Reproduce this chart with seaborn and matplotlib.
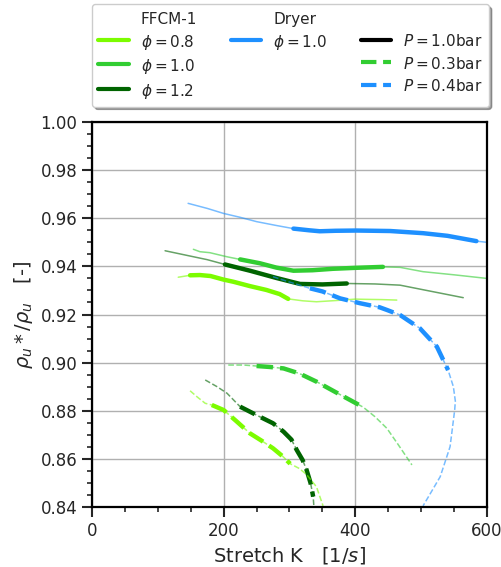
import numpy as np
import pandas as pd
import seaborn as sns
import matplotlib.pyplot as plt
from matplotlib.lines import Line2D
from matplotlib.ticker import MultipleLocator

# ---- data (K in 1/s, density ratio) ----
# FFCM-1, P = 1.0 bar
K_phi08 = [131, 149, 164, 180, 200, 215, 240, 265, 285, 298, 320, 341, 370, 400, 417, 440, 463]
r_phi08 = [0.9355, 0.9363, 0.9364, 0.9360, 0.9345, 0.9336, 0.9318, 0.9302, 0.9285, 0.9265,
           0.9257, 0.9253, 0.9258, 0.9264, 0.9263, 0.9262, 0.9260]
K_phi08_exp = [149, 164, 180, 200, 215, 240, 265, 285, 298]
r_phi08_exp = [0.9363, 0.9364, 0.9360, 0.9345, 0.9336, 0.9318, 0.9302, 0.9285, 0.9265]

K_phi10 = [154, 164, 179, 205, 225, 255, 280, 306, 335, 366, 400, 442, 468, 503, 550, 600]
r_phi10 = [0.9471, 0.9461, 0.9457, 0.9440, 0.9429, 0.9413, 0.9395, 0.9382, 0.9384, 0.9390,
           0.9394, 0.9398, 0.9396, 0.9378, 0.9365, 0.9350]
K_phi10_exp = [225, 255, 280, 306, 335, 366, 400, 442]
r_phi10_exp = [0.9429, 0.9413, 0.9395, 0.9382, 0.9384, 0.9390, 0.9394, 0.9398]

K_phi12 = [111, 149, 175, 202, 240, 280, 316, 350, 387, 430, 468, 503, 540, 564]
r_phi12 = [0.9465, 0.9443, 0.9428, 0.9408, 0.9382, 0.9352, 0.9327, 0.9325, 0.9329, 0.9327,
           0.9322, 0.9303, 0.9283, 0.9270]
K_phi12_exp = [202, 240, 280, 316, 350, 387]
r_phi12_exp = [0.9408, 0.9382, 0.9352, 0.9327, 0.9325, 0.9329]

# Dryer, phi = 1.0, P = 1.0 bar
K_dry = [146, 175, 200, 225, 250, 280, 306, 330, 346, 370, 402, 453, 503, 540, 584, 600]
r_dry = [0.9662, 0.9641, 0.9620, 0.9604, 0.9586, 0.9570, 0.9557, 0.9550, 0.9546, 0.9548,
         0.9549, 0.9547, 0.9538, 0.9527, 0.9505, 0.9500]
K_dry_exp = [306, 330, 346, 370, 402, 453, 503, 540, 584]
r_dry_exp = [0.9557, 0.9550, 0.9546, 0.9548, 0.9549, 0.9547, 0.9538, 0.9527, 0.9505]

# FFCM-1, P = 0.3 bar
K_phi08_lp = [149, 160, 172, 182, 200, 220, 240, 258, 275, 290, 301, 315, 326, 341, 351]
r_phi08_lp = [0.8883, 0.8857, 0.8831, 0.8824, 0.8803, 0.8755, 0.8706, 0.8675, 0.8644, 0.8610,
              0.8580, 0.8560, 0.8535, 0.8484, 0.8405]
K_phi08_lp_exp = [182, 200, 220, 240, 258, 275, 290, 301]
r_phi08_lp_exp = [0.8824, 0.8803, 0.8755, 0.8706, 0.8675, 0.8644, 0.8610, 0.8580]

K_phi10_lp = [207, 230, 250, 270, 291, 315, 341, 375, 412, 430, 448, 465, 486]
r_phi10_lp = [0.8990, 0.8990, 0.8986, 0.8982, 0.8976, 0.8955, 0.8921, 0.8870, 0.8815, 0.8775,
              0.8727, 0.8660, 0.8575]
K_phi10_lp_exp = [250, 270, 291, 315, 341, 375, 412]
r_phi10_lp_exp = [0.8986, 0.8982, 0.8976, 0.8955, 0.8921, 0.8870, 0.8815]

K_phi12_lp = [172, 190, 205, 225, 255, 275, 291, 303, 311, 320, 326, 332, 336, 337]
r_phi12_lp = [0.8928, 0.8900, 0.8873, 0.8817, 0.8775, 0.8748, 0.8713, 0.8680, 0.8637, 0.8595,
              0.8554, 0.8500, 0.8443, 0.8405]
K_phi12_lp_exp = [225, 255, 275, 291, 303, 311, 320, 326, 332, 336]
r_phi12_lp_exp = [0.8817, 0.8775, 0.8748, 0.8713, 0.8680, 0.8637, 0.8595, 0.8554, 0.8500, 0.8443]

# Dryer, P = 0.4 bar
K_dry_lp = [275, 300, 331, 350, 377, 407, 437, 448, 468, 498, 524, 541, 549, 552, 551, 544,
            539, 529, 517, 503]
r_dry_lp = [0.9357, 0.9335, 0.9309, 0.9296, 0.9267, 0.9247, 0.9230, 0.9219, 0.9198, 0.9143,
            0.9066, 0.8969, 0.8900, 0.8840, 0.8803, 0.8651, 0.8609, 0.8526, 0.8470, 0.8405]
K_dry_lp_exp = [331, 350, 377, 407, 437, 448, 468, 498, 524, 541]
r_dry_lp_exp = [0.9309, 0.9296, 0.9267, 0.9247, 0.9230, 0.9219, 0.9198, 0.9143, 0.9066, 0.8969]

c08, c10, c12, cdry = "#7CFC00", "#32CD32", "#006400", "#1E90FF"

sns.set_style("white")
plt.rcParams["font.family"] = ["DejaVu Sans"]
plt.rcParams["mathtext.fontset"] = "dejavusans"

fig = plt.figure(figsize=(5.02, 5.67), dpi=100)
ax = fig.add_axes([0.1833, 0.1058, 0.7867, 0.679])


def draw(K, r, Kx, rx, col, ls):
    sns.lineplot(x=K, y=r, sort=False, estimator=None, color=col, lw=1.1, alpha=0.6,
                 linestyle=ls, ax=ax)
    sns.lineplot(x=Kx, y=rx, sort=False, estimator=None, color=col, lw=3.2,
                 linestyle=ls, ax=ax)


draw(K_dry, r_dry, K_dry_exp, r_dry_exp, cdry, "-")
draw(K_phi10, r_phi10, K_phi10_exp, r_phi10_exp, c10, "-")
draw(K_phi12, r_phi12, K_phi12_exp, r_phi12_exp, c12, "-")
draw(K_phi08, r_phi08, K_phi08_exp, r_phi08_exp, c08, "-")
draw(K_dry_lp, r_dry_lp, K_dry_lp_exp, r_dry_lp_exp, cdry, "--")
draw(K_phi10_lp, r_phi10_lp, K_phi10_lp_exp, r_phi10_lp_exp, c10, "--")
draw(K_phi12_lp, r_phi12_lp, K_phi12_lp_exp, r_phi12_lp_exp, c12, "--")
draw(K_phi08_lp, r_phi08_lp, K_phi08_lp_exp, r_phi08_lp_exp, c08, "--")

ax.set_xlim(0, 600)
ax.set_ylim(0.84, 1.00)
ax.xaxis.set_major_locator(MultipleLocator(200))
ax.xaxis.set_minor_locator(MultipleLocator(50))
ax.yaxis.set_major_locator(MultipleLocator(0.02))
ax.yaxis.set_minor_locator(MultipleLocator(0.005))
ax.grid(True, which="major", color="#b0b0b0", lw=1)
ax.tick_params(which="major", direction="out", length=7, width=1.5, labelsize=12,
               bottom=True, left=True)
ax.tick_params(which="minor", direction="out", length=3.5, width=1.2, bottom=True, left=True)
for s in ax.spines.values():
    s.set_linewidth(1.6)
    s.set_color("black")
ax.set_xlabel(r"Stretch K   [1/$s$]", fontsize=14)
ax.set_ylabel(r"$\rho_u*/\rho_u$   [-]", fontsize=14)

blank = Line2D([], [], color="none")
handles = [blank,
           Line2D([], [], color=c08, lw=3), Line2D([], [], color=c10, lw=3),
           Line2D([], [], color=c12, lw=3),
           blank, Line2D([], [], color=cdry, lw=3), blank, blank,
           blank, Line2D([], [], color="black", lw=3),
           Line2D([], [], color=c10, lw=3, ls="--"), Line2D([], [], color=cdry, lw=3, ls="--")]
labels = ["FFCM-1", r"$\phi = 0.8$", r"$\phi = 1.0$", r"$\phi = 1.2$",
          "Dryer", r"$\phi = 1.0$", "", "",
          "", r"$P = 1.0$bar", r"$P = 0.3$bar", r"$P = 0.4$bar"]
ax.legend(handles, labels, ncol=3, loc="lower left", bbox_to_anchor=(0, 1.04, 1.005, 0.2),
          mode="expand", fontsize=11, shadow=True, fancybox=True, borderaxespad=0,
          handleheight=1.35, labelspacing=0.35)

fig.savefig("out.png", dpi=100)
